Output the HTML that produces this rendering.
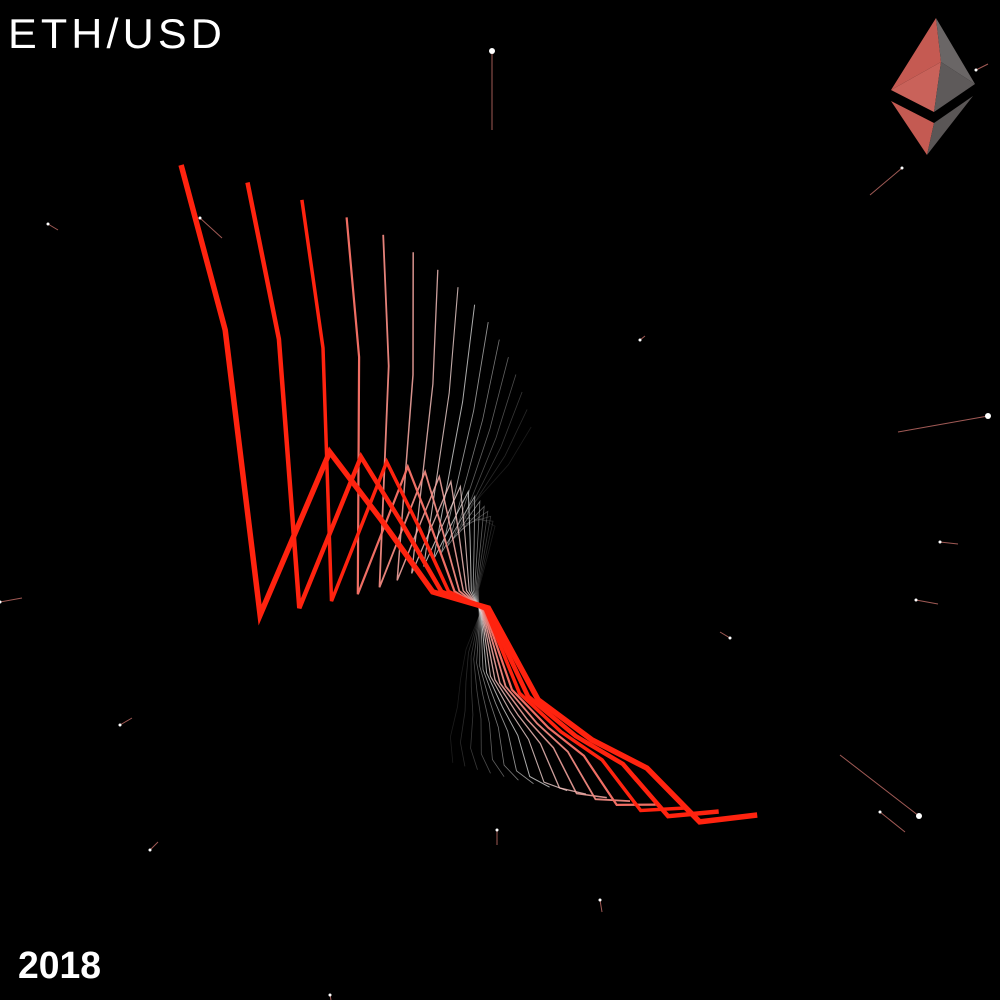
<!DOCTYPE html>
<html><head><meta charset="utf-8"><style>
html,body{margin:0;padding:0;background:#000;width:1000px;height:1000px;overflow:hidden}
svg{display:block}
.t{font-family:"Liberation Sans",sans-serif;fill:#fff}
</style></head><body>
<svg id="c" width="1000" height="1000" viewBox="0 0 1000 1000">
<rect width="1000" height="1000" fill="#000"/>
<g id="stars"></g>
<g id="lines"></g>
<text class="t" x="8" y="48" font-size="42" letter-spacing="4" textLength="218" lengthAdjust="spacingAndGlyphs">ETH/USD</text>
<text class="t" x="18" y="978" font-size="38" font-weight="bold" textLength="83" lengthAdjust="spacingAndGlyphs">2018</text>
<g>
<polygon points="936,18 891,90 941,62" fill="#c55a52"/>
<polygon points="936,18 941,62 975,84" fill="#6a6666"/>
<polygon points="891,90 941,62 934,112" fill="#c9625a"/>
<polygon points="941,62 975,84 934,112" fill="#5e5a5a"/>
<polygon points="891,101 934,123 927,155" fill="#c45a52"/>
<polygon points="934,123 973,96 927,155" fill="#5a5656"/>
</g>
</svg>
<script>
const months = ["Jan","Feb","Mar","Apr","May","Jun","Jul","Aug","Sep","Oct","Nov","Dec"];
const prices = [1096, 832, 376, 637, 528, 413, 387, 240, 176, 131, 45, 56];
const copyCount = 16;

const NS = "http://www.w3.org/2000/svg";
function xScale(i, p){ return 127.9 + 56.96*i + 0.0485*p; }
function yScale(p){ return 850 - p/1.6; }
function backX(x,y){ return -0.0025*x - 0.1596*y + 576.8; }
function backY(x,y){ return 0.402*x + 0.2249*y + 282.1; }

const g = document.getElementById('lines');
const front = prices.map((p,i)=>[xScale(i,p), yScale(p)]);
for (let k = copyCount-1; k >= 0; k--) {
  const txTop = 1 - Math.pow(0.82, k);
  const txBot = k/15;
  const ty = k / 13;
  const pts = front.map(([x,y], i) => {
    const bx = backX(x,y), by = backY(x,y);
    const w = i >= 6 ? 0.5*Math.min(1, Math.max(0, (y-560)/180)) : 0;
    const tx = (1-w)*txTop + w*txBot;
    return (x + (bx-x)*tx).toFixed(1) + "," + (y + (by-y)*ty).toFixed(1);
  }).join(" ");
  let col, op;
  if (k < 3) { col = "rgb(255,35,15)"; op = 1; }
  else if (k < 8) { const u=(k-3)/5; col = `rgb(${Math.round(240+15*u)},${Math.round(110+140*u)},${Math.round(100+150*u)})`; op = 1-0.3*u; }
  else { const u=(k-8)/7; const c=Math.round(230-120*u); col=`rgb(${c},${c},${c})`; op = 0.75-0.5*u; }
  const w = [5.5,4.5,3.5,2.2,1.8,1.5,1.3,1.1,1,0.9][k] || 0.8;
  const pl = document.createElementNS(NS,'polyline');
  pl.setAttribute('points', pts);
  pl.setAttribute('fill','none');
  pl.setAttribute('stroke', col);
  pl.setAttribute('stroke-opacity', op);
  pl.setAttribute('stroke-width', w);
  pl.setAttribute('stroke-linejoin','miter');
  
  
  g.appendChild(pl);
}

const stars = [[492,51,492,130],[902,168,870,195],[988,416,898,432],[919,816,840,755],[200,218,222,238],[730,638,720,632],[48,224,58,230],[0,602,22,598],[120,725,132,718],[150,850,158,842],[497,830,497,845],[600,900,602,912],[330,995,331,1000],[940,542,958,544],[916,600,938,604],[880,812,905,832],[640,340,645,336],[976,70,988,64]];
const sg = document.getElementById('stars');
stars.forEach(s=>{
  const l = document.createElementNS(NS,'line');
  l.setAttribute('x1',s[0]); l.setAttribute('y1',s[1]); l.setAttribute('x2',s[2]); l.setAttribute('y2',s[3]);
  l.setAttribute('stroke','#a05a55'); l.setAttribute('stroke-width','1');
  
  
  sg.appendChild(l);
  const c = document.createElementNS(NS,'circle');
  c.setAttribute('cx',s[0]); c.setAttribute('cy',s[1]); c.setAttribute('r', s[1]===51||s[0]===988||s[0]===919?3:1.5);
  c.setAttribute('fill','#fff');
  
  
  sg.appendChild(c);
});
</script>
</body></html>
